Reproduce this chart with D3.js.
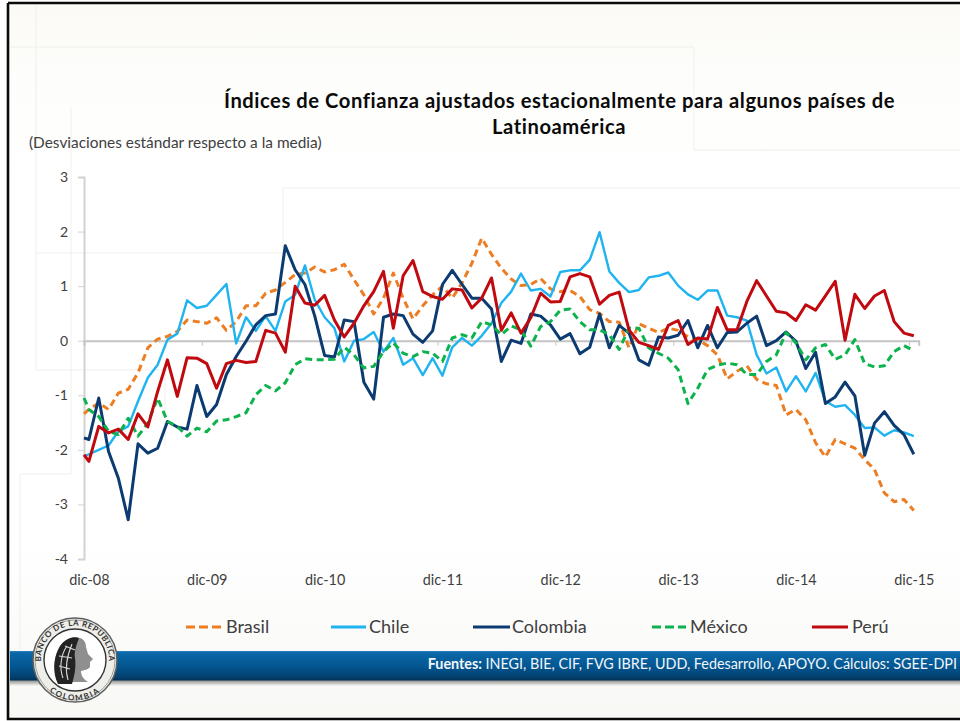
<!DOCTYPE html>
<html>
<head>
<meta charset="utf-8">
<script src="https://cdnjs.cloudflare.com/ajax/libs/d3/7.8.5/d3.min.js"></script>
<style>
html,body{margin:0;padding:0;background:#fff;}
svg{display:block;}
text{font-family:Lato,"Open Sans",sans-serif;}
</style>
</head>
<body>
<svg id="c" width="960" height="721"></svg>
<script>
// First value of each series is the short lead-in stub drawn from the axis line.
const monthIndex = [-0.5].concat(d3.range(85));
const tickLabels = ["dic-08","dic-09","dic-10","dic-11","dic-12","dic-13","dic-14","dic-15"];
const yTicks = [3,2,1,0,-1,-2,-3,-4];

const brasil = [-1.34,-1.26,-1.14,-1.26,-0.96,-0.89,-0.59,-0.13,0.03,0.08,0.17,0.38,0.35,0.32,0.42,0.19,0.35,0.64,0.64,0.87,0.93,1.07,1.21,1.24,1.35,1.26,1.30,1.40,1.12,0.84,0.49,0.78,1.24,0.78,0.40,0.64,0.84,1.0,0.78,1.06,1.42,1.88,1.58,1.33,1.13,1.01,1.03,1.14,0.95,0.90,0.92,0.81,0.57,0.50,0.35,0.34,-0.13,0.31,0.23,0.15,0.23,0.19,0.07,0.02,-0.09,-0.26,-0.70,-0.56,-0.46,-0.71,-0.79,-0.82,-1.36,-1.26,-1.45,-1.87,-2.13,-1.81,-1.89,-1.97,-2.18,-2.36,-2.79,-2.95,-2.91,-3.11];
const chile = [-2.12,-2.08,-2.0,-1.92,-1.66,-1.57,-1.11,-0.68,-0.44,0.02,0.13,0.74,0.60,0.64,0.84,1.04,-0.05,0.43,0.18,0.45,0.18,0.72,0.84,1.38,0.75,0.43,0.23,-0.38,0.0,0.03,0.16,-0.20,0.05,-0.44,-0.32,-0.63,-0.32,-0.64,-0.12,0.05,-0.09,0.09,0.32,0.69,0.90,1.23,0.92,0.95,0.81,1.26,1.29,1.29,1.48,1.99,1.27,1.06,0.89,0.93,1.16,1.19,1.25,1.01,0.85,0.75,0.92,0.92,0.46,0.43,0.37,-0.26,-0.60,-0.49,-0.93,-0.65,-0.93,-0.59,-1.11,-1.21,-1.18,-1.36,-1.60,-1.59,-1.74,-1.64,-1.68,-1.75];
const colombia = [-1.78,-1.81,-1.05,-2.03,-2.52,-3.28,-1.89,-2.06,-1.97,-1.48,-1.58,-1.62,-0.82,-1.39,-1.17,-0.62,-0.29,-0.01,0.29,0.46,0.49,1.74,1.30,1.03,0.45,-0.27,-0.30,0.38,0.35,-0.76,-1.07,0.43,0.49,0.46,0.12,-0.03,0.18,1.03,1.29,1.03,0.78,0.78,0.58,-0.38,0.01,-0.05,0.49,0.45,0.29,0.03,0.13,-0.24,-0.12,0.49,-0.13,0.28,0.14,-0.35,-0.45,0.07,0.05,0.10,0.37,-0.13,0.28,-0.13,0.15,0.16,0.32,0.45,-0.09,0,0.16,-0.01,-0.51,-0.21,-1.15,-1.03,-0.76,-1.01,-2.10,-1.51,-1.30,-1.55,-1.72,-2.08];
const mexico = [-1.05,-1.26,-1.39,-1.66,-1.72,-1.42,-1.75,-1.51,-1.05,-1.48,-1.57,-1.75,-1.60,-1.67,-1.47,-1.45,-1.39,-1.32,-0.99,-0.82,-0.92,-0.77,-0.44,-0.33,-0.35,-0.35,-0.34,-0.12,-0.26,-0.50,-0.47,-0.20,-0.04,-0.23,-0.29,-0.20,-0.23,-0.38,0.05,0.11,0.05,0.35,0.29,0.11,0.27,0.20,-0.10,0.26,0.35,0.56,0.58,0.35,0.20,0.20,0.11,-0.16,0.23,0.23,-0.13,-0.23,-0.32,-0.53,-1.15,-0.87,-0.53,-0.45,-0.41,-0.44,-0.62,-0.62,-0.38,-0.26,0.15,-0.04,-0.35,-0.13,-0.07,-0.34,-0.26,0.02,-0.42,-0.48,-0.46,-0.20,-0.09,-0.18];
const peru = [-2.09,-2.21,-1.57,-1.69,-1.62,-1.81,-1.34,-1.58,-0.93,-0.35,-1.02,-0.31,-0.32,-0.42,-0.87,-0.42,-0.36,-0.40,-0.38,0.19,0.14,-0.21,1.0,0.69,0.65,0.83,0.38,0.07,0.32,0.64,0.90,1.27,0.23,1.19,1.47,0.90,0.81,0.76,0.95,0.93,0.60,0.78,1.15,0.19,0.51,0.14,0.42,0.87,0.71,0.72,1.17,1.23,1.17,0.67,0.83,0.89,0.20,-0.03,-0.09,-0.16,0.28,0.37,-0.07,0.05,0.03,0.61,0.20,0.20,0.72,1.10,0.82,0.54,0.51,0.37,0.66,0.56,0.82,1.09,0.01,0.85,0.59,0.82,0.92,0.35,0.14,0.09];

const seriesNames = ["Brasil","Chile","Colombia","México","Perú"];
const seriesValues = [brasil,chile,colombia,mexico,peru];
const seriesColors = ["#ED7D23","#1FB4F0","#0B3B70","#0CB24C","#C00A0F"];
const seriesDashed = [true,false,false,true,false];
const legendLineX = [[186,221],[331,366],[473,510],[652,686],[812,848]];
const legendTextX = [226,369,512,690,852];

const svg = d3.select("#c");
const defs = svg.append("defs");
const bgGrad = defs.append("linearGradient").attr("id","bg").attr("x1",0).attr("x2",0).attr("y1",0).attr("y2",1);
[[0,"#fbfaf5"],[0.1,"#fdfdfb"],[0.25,"#ffffff"],[0.75,"#ffffff"],[0.88,"#fbfbfa"],[1,"#f8f8f5"]].forEach(d=>bgGrad.append("stop").attr("offset",d[0]).attr("stop-color",d[1]));
const bandGrad = defs.append("linearGradient").attr("id","band").attr("x1",0).attr("x2",0).attr("y1",0).attr("y2",1);
[[0,"#2f86bd"],[0.06,"#0a68a8"],[0.55,"#03558f"],[0.9,"#033f6d"],[1,"#022f52"]].forEach(d=>bandGrad.append("stop").attr("offset",d[0]).attr("stop-color",d[1]));
const shGrad = defs.append("linearGradient").attr("id","sh").attr("x1",0).attr("x2",0).attr("y1",0).attr("y2",1);
[[0,"#8a8a8a"],[1,"#f8f8f5"]].forEach(d=>shGrad.append("stop").attr("offset",d[0]).attr("stop-color",d[1]));

// slide background and frame
svg.append("rect").attr("x",0).attr("y",0).attr("width",960).attr("height",721).attr("fill","#fff");
svg.append("rect").attr("x",8).attr("y",3).attr("width",960).attr("height",716).attr("fill","url(#bg)");
const faint = svg.append("g").attr("fill","none").attr("stroke","#efefed").attr("stroke-width",1);
["M36 4V370H165V445","M10 47H694V150H960","M71 107V474H20V650","M36 253H283","M283 253V188H960"].forEach(p=>faint.append("path").attr("d",p));

// banner
svg.append("rect").attr("x",10).attr("y",680).attr("width",950).attr("height",6).attr("fill","url(#sh)");
svg.append("rect").attr("x",10).attr("y",651).attr("width",950).attr("height",29.5).attr("fill","url(#band)");
svg.append("path").attr("d","M8 3H960M8 3V719H960").attr("fill","none").attr("stroke","#0a0a0a").attr("stroke-width",2.6);

// scales
const x = d3.scaleLinear().domain([-0.5,84.5]).range([84,918.7]);
const y = d3.scaleLinear().domain([-4,3]).range([559,177]);

// axes
const yAxis = svg.append("g").attr("transform","translate(84,0)").call(d3.axisLeft(y).tickValues(yTicks).tickSize(6).tickPadding(10).tickFormat(d3.format("d")));
yAxis.select(".domain").attr("stroke","#d2d2d2").attr("stroke-width",2);
yAxis.selectAll("line").attr("stroke","#d2d2d2");
yAxis.selectAll("text").attr("font-size",14).attr("fill","#404040").text(d=>String(d));

const xTicks = svg.append("g").attr("transform",`translate(0,${y(0)})`).call(d3.axisBottom(x).tickValues(tickLabels.map((_,i)=>i*12-0.5).slice(1)).tickSize(5).tickFormat(""));
xTicks.select(".domain").attr("stroke","#c4c4c4").attr("stroke-width",2);
xTicks.selectAll("line").attr("stroke","#c4c4c4");

const xLabels = svg.append("g").attr("transform","translate(0,569)").call(d3.axisBottom(x).tickValues(tickLabels.map((_,i)=>i*12)).tickSize(0).tickPadding(6).tickFormat((d,i)=>tickLabels[i]));
xLabels.select(".domain").remove();
xLabels.selectAll("text").attr("font-size",14.4).attr("fill","#404040");

// lines
const line = d3.line().x((d,i)=>x(monthIndex[i])).y(d=>y(d));
seriesValues.forEach((vals,k)=>{
  svg.append("path").datum(vals).attr("d",line).attr("fill","none")
    .attr("stroke",seriesColors[k]).attr("stroke-width",seriesDashed[k]?3:(k===1?2.4:3))
    .attr("stroke-linejoin","round")
    .attr("stroke-dasharray",seriesDashed[k]?"7 4.5":null);
});

// titles
const title = svg.append("g").attr("text-anchor","middle").attr("fill","#0a0a0a").attr("font-weight",700).attr("font-size",20.2);
title.append("text").attr("x",559.5).attr("y",108).attr("letter-spacing",0.55).text("Índices de Confianza ajustados estacionalmente para algunos países de");
title.append("text").attr("x",559).attr("y",134).attr("letter-spacing",0.55).text("Latinoamérica");
svg.append("text").attr("x",29).attr("y",148).attr("font-size",15.4).attr("fill","#404040").text("(Desviaciones estándar respecto a la media)");

// legend
seriesNames.forEach((n,k)=>{
  svg.append("line").attr("x1",legendLineX[k][0]).attr("x2",legendLineX[k][1]).attr("y1",627).attr("y2",627)
    .attr("stroke",seriesColors[k]).attr("stroke-width",3).attr("stroke-dasharray",seriesDashed[k]?"9 4":null);
  svg.append("text").attr("x",legendTextX[k]).attr("y",633).attr("font-size",18).attr("fill","#404040").text(n);
});

// source
const src = svg.append("text").attr("x",957).attr("y",669).attr("text-anchor","end").attr("font-size",14.35).attr("fill","#f2f6fa");
src.append("tspan").attr("font-weight",700).text("Fuentes: ");
src.append("tspan").text("INEGI, BIE, CIF, FVG IBRE, UDD, Fedesarrollo, APOYO. Cálculos: SGEE-DPI");

// seal
const seal = svg.append("g").attr("transform","translate(75,660)");
seal.append("circle").attr("r",42).attr("fill","#efefea").attr("stroke","#5e5e5e").attr("stroke-width",1.5);
seal.append("circle").attr("r",40).attr("fill","none").attr("stroke","#8a8a8a").attr("stroke-width",0.8);
seal.append("circle").attr("r",31).attr("fill","#ffffff").attr("stroke","#333").attr("stroke-width",1.4);
defs.append("path").attr("id","arcTop").attr("d","M-33.4 6A34 34 0 1 1 33.4 6");
defs.append("path").attr("id","arcBot").attr("d","M-36 18A40 40 0 0 0 36 18");
seal.append("text").attr("font-family","Liberation Serif").attr("font-size",8).attr("font-weight",700).attr("letter-spacing",0.6).attr("fill","#333")
  .append("textPath").attr("href","#arcTop").attr("startOffset","50%").attr("text-anchor","middle").text("BANCO DE LA REPUBLICA");
seal.append("text").attr("font-family","Liberation Serif").attr("font-size",8).attr("font-weight",700).attr("letter-spacing",1.6).attr("fill","#333")
  .append("textPath").attr("href","#arcBot").attr("startOffset","50%").attr("text-anchor","middle").text("COLOMBIA");
seal.append("path").attr("d","M-16 22C-22 12-21 -2-17-10C-13-20-3-25 5-22C9-21 11-17 11-13L13-6L18-1L15 2L15 7C13 10 9 10 6 11C6 15 8 19 13 22Z").attr("fill","#8f8f8f");
seal.append("path").attr("d","M-17 24C-23 12-21-2-17-10C-13-20-3-25 4-22C1-14-1-8 0-2C1 6 0 14-3 24Z").attr("fill","#232323");
seal.append("path").attr("d","M-12 18C-16 8-14-6-8-14M-7 20C-10 10-8-4-3-16M-16 6L-5 9M-16-4L-3-2M-10-14L0-10").attr("fill","none").attr("stroke","#d8d8d8").attr("stroke-width",1.1);
</script>
</body>
</html>
